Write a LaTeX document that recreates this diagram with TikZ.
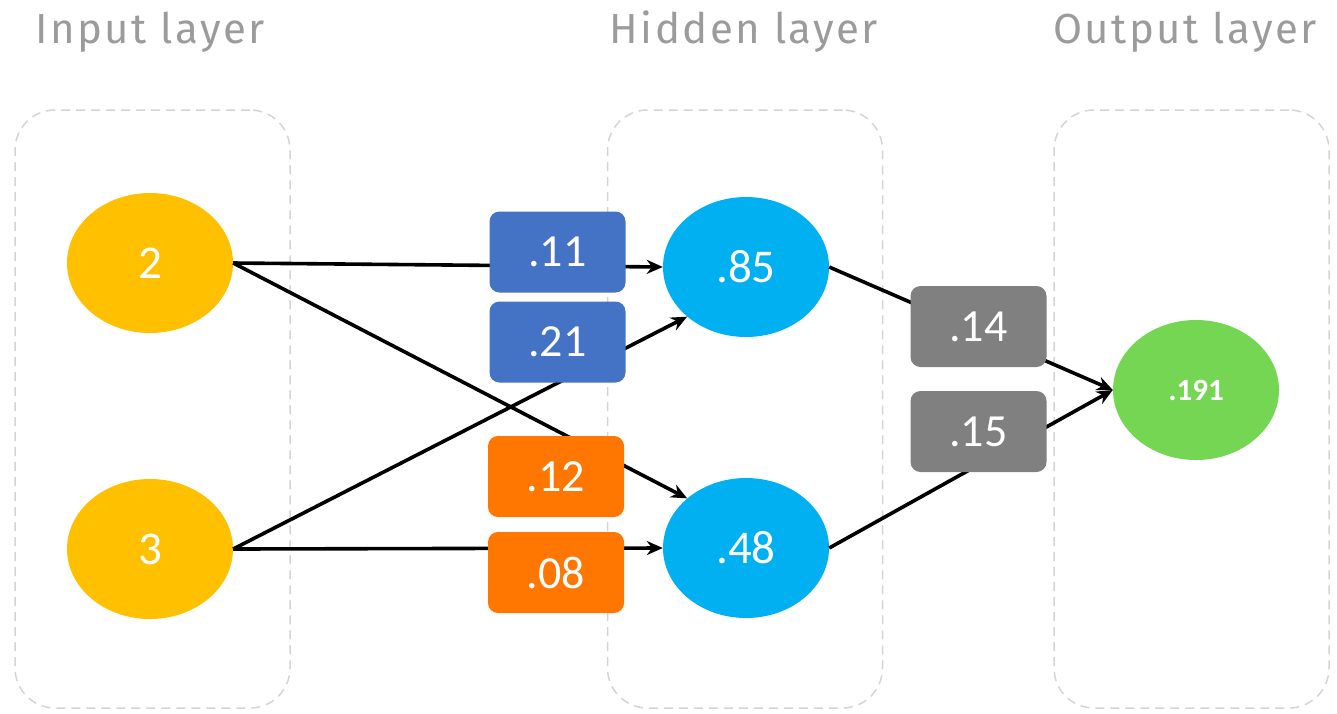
\documentclass[tikz,border=0pt]{standalone}
\usepackage{fontspec}
\setmainfont{Carlito}
\newfontfamily\titlefont[LetterSpace=6]{Fira Sans}
\usetikzlibrary{shapes.geometric,arrows.meta}
\definecolor{inyellow}{RGB}{255,192,0}
\definecolor{hidblue}{RGB}{0,176,240}
\definecolor{outgreen}{RGB}{116,214,82}
\definecolor{wblue}{RGB}{68,114,196}
\definecolor{worange}{RGB}{255,118,0}
\definecolor{wgrey}{RGB}{128,128,128}
\definecolor{titlegrey}{RGB}{155,155,155}
\definecolor{dashgrey}{RGB}{212,212,212}
\tikzset{
  container/.style={draw=dashgrey, line width=1.5pt, dash pattern=on 9pt off 6pt,
    rounded corners=40pt, minimum width=275pt, minimum height=598pt, inner sep=0pt},
  layertitle/.style={text=titlegrey, font=\titlefont\fontsize{42}{45}\selectfont, inner sep=0pt},
  neuron/.style={ellipse, minimum width=166pt, minimum height=140pt, inner sep=0pt,
    text=white, font=\fontsize{47}{50}\selectfont},
  weight/.style={rounded corners=10pt, minimum width=136pt, minimum height=81pt, inner sep=0pt,
    text=white, font=\fontsize{46}{50}\selectfont},
  conn/.style={line width=3.6pt, -{Stealth[length=16pt,width=14pt]}},
}
\begin{document}
\begin{tikzpicture}[x=1pt,y=-1pt]
\useasboundingbox (0,0) rectangle (1337,713);
% containers
\node[container] (cin) at (152.5,409) {};
\node[container] (chid) at (745,409) {};
\node[container] (cout) at (1191.5,409) {};
% titles
\node[layertitle] (tin) at (150,32) {Input layer};
\node[layertitle] (thid) at (744,32) {Hidden layer};
\node[layertitle] (tout) at (1185,32) {Output layer};
% neurons
\node[neuron, fill=inyellow] (i1) at (150,263) {2};
\node[neuron, fill=inyellow] (i2) at (150,549) {3};
\node[neuron, fill=hidblue] (h1) at (746,267) {.85};
\node[neuron, fill=hidblue] (h2) at (746,548) {.48};
\node[neuron, fill=outgreen, font=\bfseries\fontsize{31}{34}\selectfont] (o) at (1196,390) {.191};
% connectors
\draw[conn] (i1.east) -- (h1.west);
\draw[conn] (i1.east) -- (h2.north west);
\draw[conn] (i2.east) -- (h1.south west);
\draw[conn] (i2.east) -- (h2.west);
\draw[conn] (h1.east) -- (o.west);
\draw[conn] (h2.east) -- (o.west);
% weights
\node[weight, fill=wblue] (w11) at (557.5,252) {.11};
\node[weight, fill=wblue] (w21) at (557.5,342) {.21};
\node[weight, fill=worange] (w12) at (556,476.5) {.12};
\node[weight, fill=worange] (w08) at (556,572.5) {.08};
\node[weight, fill=wgrey] (w14) at (978.5,326.5) {.14};
\node[weight, fill=wgrey] (w15) at (978.5,431.5) {.15};
\end{tikzpicture}
\end{document}
